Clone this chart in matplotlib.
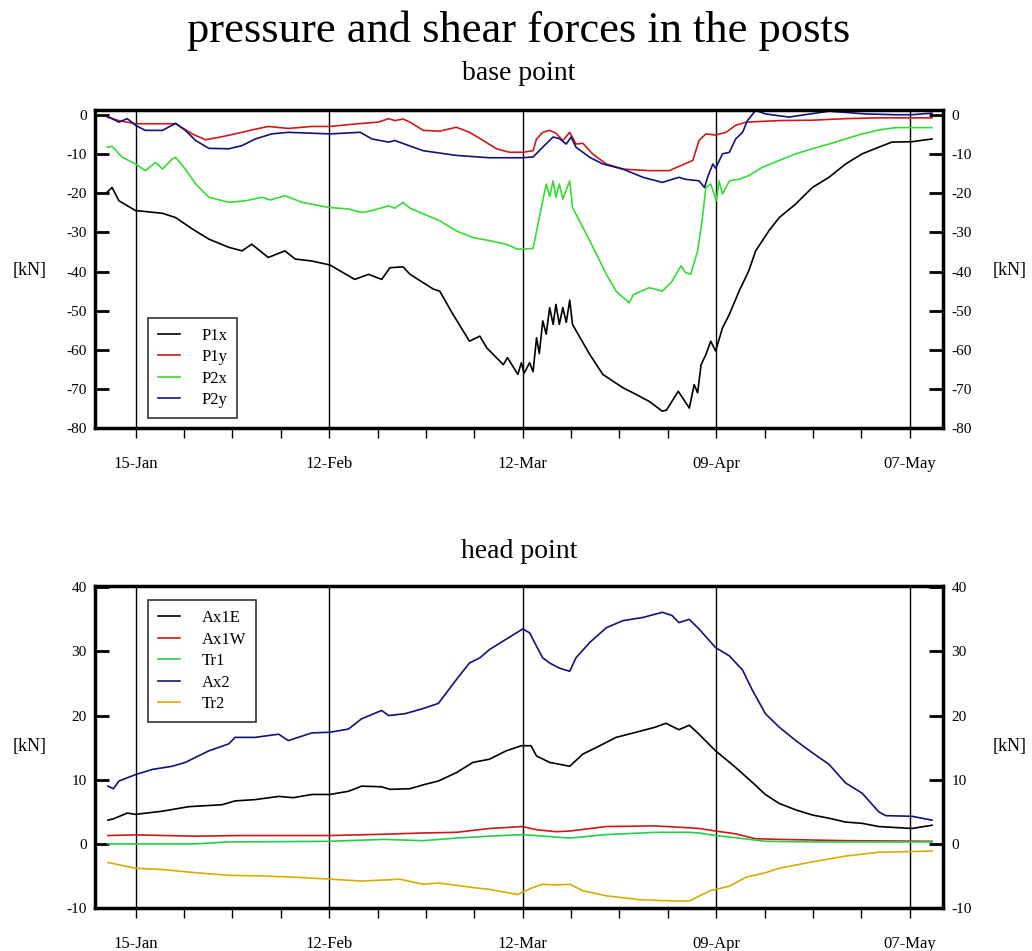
import numpy as np
import pandas as pd
import matplotlib
matplotlib.use('Agg')
import matplotlib.pyplot as plt

plt.rcParams['font.family'] = ['Liberation Serif', 'DejaVu Serif']
plt.rcParams['axes.unicode_minus'] = False

# ---------------- data (day offset from 15-Jan, value in kN) ----------------
BASE_DATE = '2009-01-15'
X_MAJOR_DAYS = [0, 28, 56, 84, 112]
X_MAJOR_LABELS = ['15-Jan', '12-Feb', '12-Mar', '09-Apr', '07-May']
X_MINOR_DAYS = list(range(0, 113, 7))

TOP_YTICKS = [0, -10, -20, -30, -40, -50, -60, -70, -80]
BOT_YTICKS = [40, 30, 20, 10, 0, -10]

P1X = [(-4.1, -19.7), (-3.4, -18.5), (-2.4, -21.9), (0, -24.4), (3.9, -25.1), (5.8, -26.2),
       (8.2, -29.1), (10.6, -31.7), (13.5, -33.8), (15.4, -34.7), (16.8, -33.0), (19.2, -36.4),
       (21.6, -34.7), (23.1, -36.8), (25.5, -37.3), (28.1, -38.3), (31.7, -42.0), (33.7, -40.7),
       (35.6, -42.0), (36.8, -39.0), (38.7, -38.8), (39.7, -40.7), (43.1, -44.5), (44.0, -45.0),
       (45.9, -50.9), (48.3, -57.8), (49.8, -56.5), (50.8, -59.5), (53.2, -63.8), (53.8, -62.0),
       (55.3, -66.3), (55.8, -63.3), (56.2, -66.0), (57.0, -63.3), (57.5, -65.6), (58.0, -56.9),
       (58.4, -61.0), (58.9, -52.6), (59.4, -56.0), (59.9, -49.2), (60.4, -53.5), (60.8, -48.4),
       (61.3, -53.5), (61.8, -49.2), (62.3, -53.0), (62.8, -47.3), (63.2, -53.5), (65.7, -61.2),
       (67.6, -66.3), (70.5, -69.7), (72.4, -71.4), (74.3, -73.2), (76.2, -75.7), (76.8, -75.4),
       (78.5, -70.6), (80.1, -74.9), (80.8, -68.9), (81.3, -71.0), (81.8, -63.8), (82.5, -61.2),
       (83.2, -57.8), (83.9, -60.3), (84.9, -54.4), (85.9, -50.9), (87.3, -45.0), (88.7, -39.8),
       (89.7, -34.7), (91.6, -29.6), (93.1, -26.2), (95.5, -22.7), (97.9, -18.5), (100.3, -15.9),
       (102.7, -12.5), (105.1, -9.9), (107.5, -8.2), (109.4, -6.9), (112.3, -6.8), (115.2, -6.1)]

P1Y = [(-4.1, -0.5), (-2.4, -1.4), (0, -2.2), (3.9, -2.2), (5.8, -2.2), (8.2, -4.8), (10.1, -6.3),
       (12.0, -5.7), (14.4, -4.8), (16.8, -3.8), (19.2, -2.9), (22.1, -3.4), (25.5, -2.9),
       (28.1, -2.9), (32.2, -2.2), (35.1, -1.8), (36.6, -0.9), (37.5, -1.4), (38.7, -1.0),
       (39.7, -1.8), (41.6, -3.9), (44.0, -4.1), (46.4, -3.1), (48.3, -4.4), (50.3, -6.5),
       (52.2, -8.6), (54.1, -9.5), (56.0, -9.5), (57.5, -9.1), (58.0, -6.1), (58.9, -4.4),
       (59.9, -3.9), (60.8, -4.6), (61.8, -6.5), (62.8, -4.4), (63.7, -7.4), (64.7, -7.2),
       (66.1, -9.9), (68.1, -12.5), (70.5, -13.8), (74.3, -14.2), (77.2, -14.2), (78.6, -13.1),
       (80.6, -11.6), (81.5, -6.5), (82.5, -4.8), (83.9, -5.1), (85.4, -4.4), (86.8, -2.6),
       (88.3, -1.8), (93.1, -1.4), (97.9, -1.3), (102.7, -0.9), (107.5, -0.7), (115.2, -0.7)]

P2X = [(-4.1, -8.2), (-3.4, -8.0), (-1.9, -10.8), (0, -12.5), (1.4, -14.2), (2.9, -12.1),
       (3.9, -13.8), (5.3, -11.2), (5.8, -10.8), (7.2, -13.8), (8.7, -17.6), (10.6, -21.0),
       (13.5, -22.3), (15.9, -21.9), (18.3, -21.0), (19.5, -21.7), (21.6, -20.6), (24.1, -22.3),
       (27.9, -23.6), (30.8, -24.0), (32.7, -24.9), (34.2, -24.4), (36.6, -23.2), (37.5, -23.8),
       (38.7, -22.3), (39.7, -23.8), (44.0, -27.0), (46.4, -29.6), (48.8, -31.3), (51.2, -32.1),
       (53.6, -33.0), (55.3, -34.3), (57.5, -34.1), (58.4, -26.2), (59.4, -17.6), (59.9, -20.8),
       (60.4, -16.8), (60.8, -21.0), (61.3, -17.6), (61.8, -21.5), (62.8, -16.8), (63.2, -23.6),
       (65.7, -32.1), (68.1, -40.7), (69.5, -45.0), (71.4, -48.0), (72.0, -45.9), (74.3, -44.1),
       (76.2, -45.0), (77.6, -42.5), (78.9, -38.5), (79.5, -40.2), (80.3, -40.7), (81.3, -34.7),
       (82.0, -26.2), (82.5, -18.5), (83.2, -17.6), (84.0, -21.9), (84.4, -16.8), (84.9, -20.2),
       (85.9, -16.8), (87.3, -16.4), (88.7, -15.5), (90.7, -13.3), (93.1, -11.6), (95.5, -9.9),
       (97.9, -8.6), (100.3, -7.4), (102.7, -6.1), (105.1, -4.8), (107.5, -3.8), (109.9, -3.2),
       (115.2, -3.2)]

P2Y = [(-4.1, -0.3), (-2.4, -1.8), (-1.2, -0.9), (0, -2.6), (1.4, -3.9), (3.9, -3.9), (5.8, -2.1),
       (7.2, -3.9), (8.7, -6.5), (10.6, -8.5), (13.5, -8.6), (15.4, -7.8), (17.3, -6.1),
       (19.7, -4.8), (22.1, -4.4), (28.1, -4.8), (32.5, -4.4), (34.2, -6.1), (36.6, -6.9),
       (37.5, -6.5), (41.6, -9.1), (46.4, -10.3), (51.2, -10.9), (56.0, -10.9), (57.5, -10.7),
       (58.9, -8.2), (60.4, -5.6), (61.3, -6.0), (62.3, -7.4), (63.0, -5.6), (63.7, -8.2),
       (65.7, -10.8), (67.6, -12.5), (70.5, -13.8), (73.4, -15.9), (76.2, -17.2), (78.6, -15.9),
       (79.5, -16.4), (81.5, -16.8), (82.3, -18.5), (82.8, -15.6), (83.5, -12.5), (83.9, -13.6),
       (84.9, -9.9), (85.9, -9.5), (86.8, -6.1), (87.8, -4.4), (88.5, -1.4), (89.7, 1.2),
       (91.1, 0.3), (94.5, -0.5), (100.3, 1.0), (102.7, 0.7), (105.6, 0.3), (109.9, 0.1),
       (112.3, 0.1), (115.2, 0.5)]

AX1E = [(-4.0, 3.7), (-3.2, 3.9), (-1.2, 4.8), (0, 4.6), (3.9, 5.1), (7.7, 5.8), (12.5, 6.1),
        (14.4, 6.7), (17.3, 6.9), (20.7, 7.4), (22.8, 7.2), (25.5, 7.7), (28.1, 7.7), (30.8, 8.2),
        (32.7, 9.0), (35.6, 8.9), (36.8, 8.5), (39.7, 8.6), (41.6, 9.2), (43.8, 9.8), (46.4, 11.1),
        (48.8, 12.7), (51.2, 13.2), (53.6, 14.5), (55.8, 15.3), (57.2, 15.3), (58.0, 13.7),
        (59.9, 12.7), (62.8, 12.1), (64.7, 14.0), (66.6, 15.0), (69.5, 16.6), (72.4, 17.4),
        (75.2, 18.2), (76.7, 18.8), (78.6, 17.8), (80.1, 18.5), (81.5, 17.1), (83.9, 14.5),
        (86.6, 12.1), (89.0, 9.8), (91.1, 7.7), (93.1, 6.3), (95.5, 5.3), (97.9, 4.5),
        (100.3, 4.0), (102.7, 3.4), (105.1, 3.2), (107.5, 2.7), (112.3, 2.4), (115.2, 2.9)]

AX1W = [(-4.0, 1.3), (0, 1.4), (8.7, 1.2), (15.0, 1.3), (22.0, 1.3), (28.1, 1.3), (35.9, 1.5),
        (41.6, 1.7), (46.4, 1.8), (51.2, 2.4), (56.0, 2.7), (58.0, 2.2), (60.8, 1.9), (62.8, 2.0),
        (68.1, 2.7), (75.2, 2.8), (80.1, 2.5), (81.5, 2.4), (83.9, 2.0), (86.6, 1.6), (89.7, 0.8),
        (93.1, 0.7), (102.7, 0.5), (115.2, 0.4)]

TR1 = [(-4.0, 0.0), (8.7, 0.0), (13.5, 0.3), (28.1, 0.4), (35.9, 0.7), (41.6, 0.5), (46.4, 0.9),
       (51.2, 1.2), (56.0, 1.45), (62.8, 0.9), (68.1, 1.45), (75.2, 1.8), (80.1, 1.8), (81.5, 1.7),
       (83.9, 1.3), (88.0, 0.8), (91.1, 0.4), (97.9, 0.3), (115.2, 0.3)]

AX2 = [(-4.0, 9.0), (-3.2, 8.6), (-2.4, 9.8), (0, 10.8), (2.4, 11.6), (5.3, 12.1), (7.2, 12.7),
       (8.7, 13.5), (10.6, 14.5), (13.5, 15.6), (14.4, 16.6), (17.3, 16.6), (20.7, 17.1),
       (22.1, 16.1), (25.5, 17.3), (28.1, 17.4), (30.8, 17.9), (32.7, 19.5), (35.6, 20.8),
       (36.6, 20.0), (39.0, 20.3), (41.6, 21.1), (43.8, 21.9), (46.4, 25.6), (48.3, 28.2),
       (49.8, 29.0), (51.2, 30.3), (53.6, 31.9), (55.1, 32.9), (56.0, 33.5), (57.0, 32.9),
       (58.0, 30.8), (58.9, 29.0), (59.9, 28.2), (61.3, 27.4), (62.8, 26.9), (63.7, 29.0),
       (65.7, 31.4), (68.1, 33.7), (70.5, 34.8), (73.4, 35.3), (76.2, 36.1), (77.6, 35.6),
       (78.6, 34.5), (80.1, 35.0), (81.5, 33.5), (83.9, 30.6), (85.9, 29.3), (87.8, 27.1),
       (89.2, 24.0), (91.1, 20.3), (93.1, 18.2), (95.5, 16.1), (97.9, 14.2), (100.3, 12.4),
       (102.7, 9.5), (105.1, 7.9), (107.5, 5.0), (108.5, 4.4), (112.3, 4.3), (115.2, 3.7)]

TR2 = [(-4.0, -2.9), (0, -3.8), (3.9, -4.0), (8.7, -4.5), (13.5, -4.9), (18.3, -5.0), (23.1, -5.2),
       (28.1, -5.5), (32.7, -5.8), (36.6, -5.6), (38.2, -5.5), (41.6, -6.3), (43.8, -6.1),
       (48.8, -6.8), (51.2, -7.1), (55.3, -7.9), (56.0, -7.5), (57.5, -6.8), (58.9, -6.3),
       (60.8, -6.4), (62.8, -6.3), (64.7, -7.3), (68.1, -8.1), (72.9, -8.7), (77.6, -8.9),
       (80.1, -8.9), (83.1, -7.3), (85.9, -6.6), (88.3, -5.2), (91.1, -4.5), (93.1, -3.8),
       (97.9, -2.8), (102.7, -1.9), (107.5, -1.3), (112.3, -1.2), (115.2, -1.1)]

TOP_SERIES = [('P1x', P1X, '#000000'), ('P1y', P1Y, '#cc1a1a'),
              ('P2x', P2X, '#33dd33'), ('P2y', P2Y, '#12127a')]
BOT_SERIES = [('Ax1E', AX1E, '#000000'), ('Ax1W', AX1W, '#cc1a1a'), ('Tr1', TR1, '#22d04a'),
              ('Ax2', AX2, '#12127a'), ('Tr2', TR2, '#d8ac00')]


def to_dates(days):
    return pd.Timestamp(BASE_DATE) + pd.to_timedelta(np.asarray(days, dtype=float), unit='D')


fig = plt.figure(figsize=(10.32, 9.51), dpi=100)
ax_top = fig.add_axes([0.0921, 0.5499, 0.8217, 0.3344])
ax_bot = fig.add_axes([0.0921, 0.0452, 0.8217, 0.3386])


def style(ax, ylim, yticks):
    ax.set_xlim(to_dates([-5.86])[0], to_dates([116.8])[0])
    ax.set_ylim(*ylim)
    ax.set_yticks(yticks)
    ax.set_xticks(to_dates(X_MAJOR_DAYS))
    ax.set_xticklabels(X_MAJOR_LABELS)
    ax.set_xticks(to_dates(X_MINOR_DAYS), minor=True)
    ax.tick_params(axis='y', which='both', direction='in', length=10, width=2,
                   left=True, right=True, labelleft=True, labelright=True,
                   labelsize=11, pad=6)
    ax.tick_params(axis='x', which='both', direction='out', length=7, width=1,
                   labelsize=12, pad=13, top=False)
    ax.grid(axis='x', which='major', color='black', linewidth=1)
    for s in ax.spines.values():
        s.set_linewidth(2.5)


def draw(ax, series):
    for name, pts, color in series:
        d, v = zip(*pts)
        ax.plot(to_dates(d), v, color=color, linewidth=1.2, label=name)


draw(ax_top, TOP_SERIES)
draw(ax_bot, BOT_SERIES)
style(ax_top, (-80, 1.3), TOP_YTICKS)
style(ax_bot, (-10, 40.2), BOT_YTICKS)

leg_kw = dict(fontsize=12, frameon=True, fancybox=False, edgecolor='black',
              handlelength=1.3, handletextpad=1.3, labelspacing=0.33,
              borderpad=0.6, borderaxespad=0)
lt = ax_top.legend(loc='lower left', bbox_to_anchor=(0.0625, 0.031), **leg_kw)
lb = ax_bot.legend(loc='upper left', bbox_to_anchor=(0.0625, 0.9565), **leg_kw)
for lg in (lt, lb):
    lg.get_frame().set_linewidth(1.2)

fig.text(0.503, 1 - 31 / 951, 'pressure and shear forces in the posts',
         ha='center', va='center', fontsize=32)
fig.text(0.503, 1 - 74 / 951, 'base point', ha='center', va='center', fontsize=20)
fig.text(0.503, 1 - 552 / 951, 'head point', ha='center', va='center', fontsize=20)
for yc in (271, 747):
    fig.text(30 / 1032, 1 - yc / 951, '[kN]', ha='center', va='center', fontsize=13)
    fig.text(1010 / 1032, 1 - yc / 951, '[kN]', ha='center', va='center', fontsize=13)

fig.savefig('out.png', dpi=100)
